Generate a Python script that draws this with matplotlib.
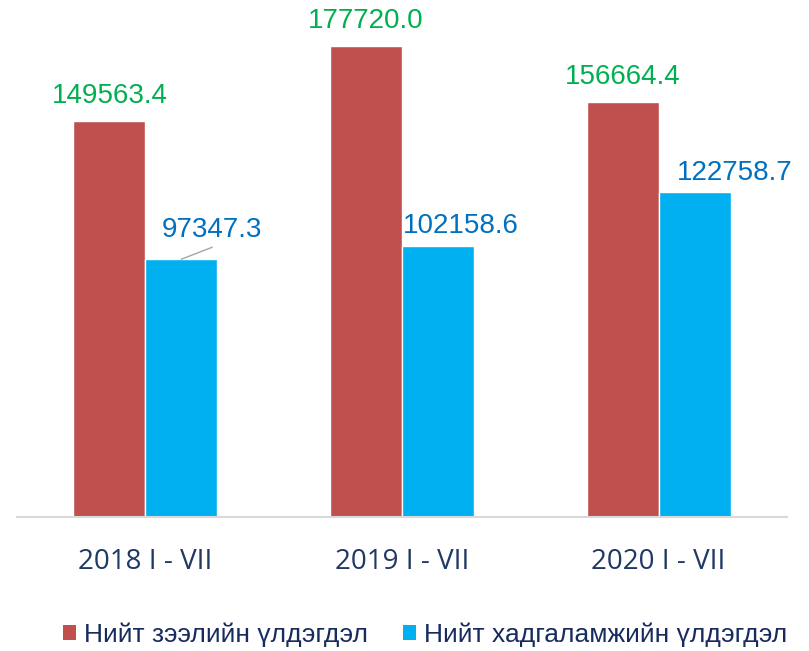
import matplotlib
matplotlib.use("Agg")
import matplotlib.pyplot as plt
from matplotlib.patches import Patch
import numpy as np

# data
periods = ["2018 I - VII", "2019 I - VII", "2020 I - VII"]
loans = [149563.4, 177720.0, 156664.4]
savings = [97347.3, 102158.6, 122758.7]
series_names = ["Нийт зээлийн үлдэгдэл", "Нийт хадгаламжийн үлдэгдэл"]

red = "#C0504D"
blue = "#00B0F0"
navy = "#1F3864"

plt.rcParams["font.family"] = ["Liberation Sans", "DejaVu Sans"]

fig = plt.figure(figsize=(8.09, 6.51), dpi=100)
ax = fig.add_axes([17 / 809, 134 / 651, 770 / 809, 517 / 651])

x = np.arange(len(periods))
w = 0.28
ax.bar(x - w / 2, loans, w, color=red, edgecolor="white", linewidth=1)
ax.bar(x + w / 2, savings, w, color=blue, edgecolor="white", linewidth=1)

ax.set_xlim(-0.5, 2.5)
ax.set_ylim(0, 195250)

# value labels
for xi, v in zip(x, loans):
    ax.annotate(f"{v:.1f}", xy=(xi - w / 2, v), xytext=(0, 18),
                textcoords="offset pixels", ha="center", va="baseline",
                fontsize=20, color="#00B050")

blue_offsets = [(31, 22), (23, 13), (40, 12)]
for xi, v, off in zip(x, savings, blue_offsets):
    ax.annotate(f"{v:.1f}", xy=(xi + w / 2, v), xytext=off,
                textcoords="offset pixels", ha="center", va="baseline",
                fontsize=20, color="#0070C0")

# leader line for the first savings label
ax.annotate("", xy=(x[0] + w / 2, savings[0]), xytext=(31, 12),
            textcoords="offset pixels",
            arrowprops=dict(arrowstyle="-", color="#A6A6A6", lw=1,
                            shrinkA=0, shrinkB=0))

ax.set_xticks(x)
ax.set_xticklabels(periods, fontsize=20, color=navy, family="Open Sans")
ax.tick_params(axis="x", length=0, pad=22)
ax.set_yticks([])
for s in ["top", "right", "left"]:
    ax.spines[s].set_visible(False)
ax.spines["bottom"].set_color("#D9D9D9")
ax.spines["bottom"].set_linewidth(1.5)

handles = [Patch(facecolor=red), Patch(facecolor=blue)]
fig.legend(handles, series_names, loc="center", ncol=2,
           bbox_to_anchor=(425 / 809, 1 - 635 / 651), frameon=False,
           fontsize=19, labelcolor="#172B5E", handlelength=0.5,
           handleheight=0.5, handletextpad=0.3, columnspacing=1.3)

fig.savefig("out.png", dpi=100)
